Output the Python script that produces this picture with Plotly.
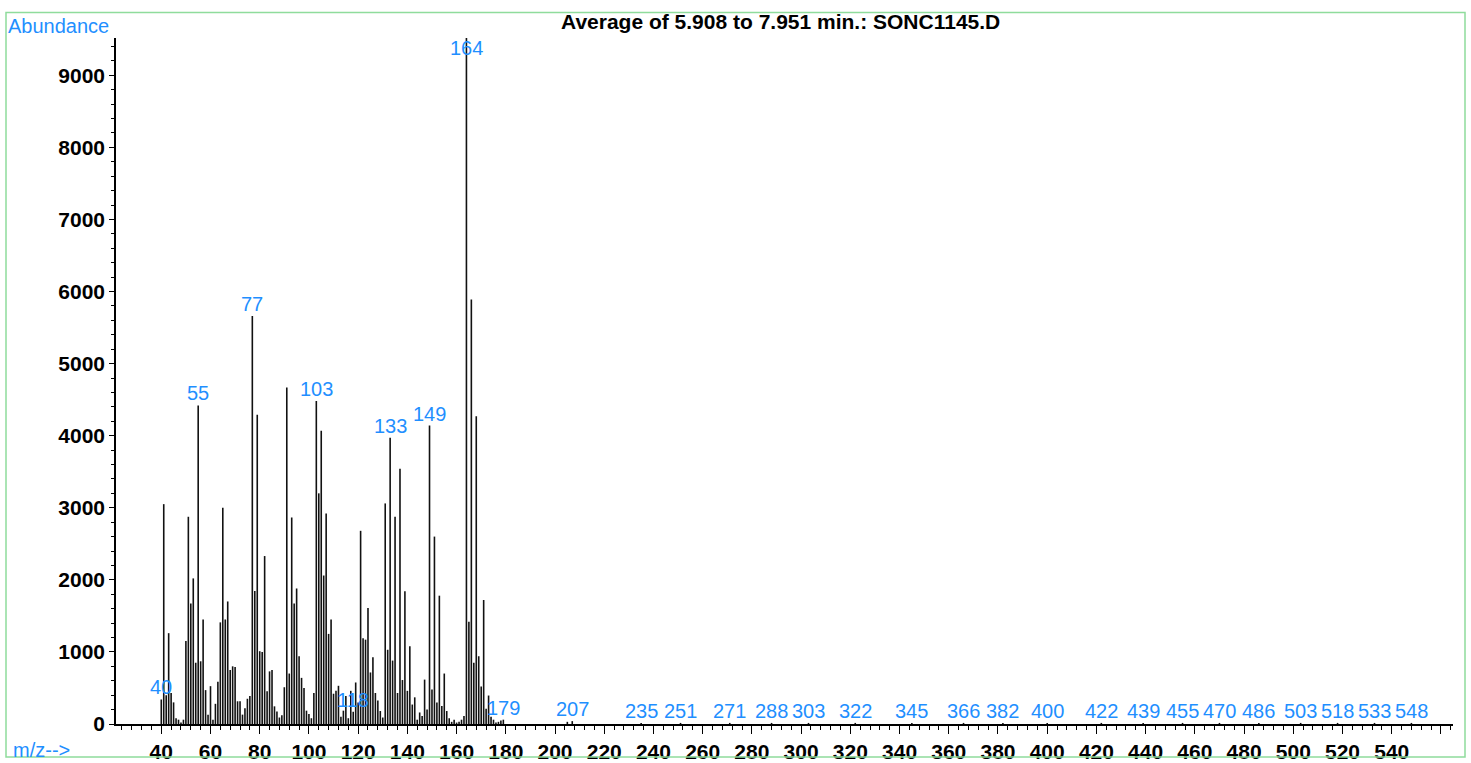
import plotly.graph_objects as go

# ---------------- data ----------------
mz = [40, 41, 42, 43, 44, 45, 46, 47, 48, 49,
      50, 51, 52, 53, 54, 55, 56, 57, 58, 59,
      60, 61, 62, 63, 64, 65, 66, 67, 68, 69,
      70, 71, 72, 73, 74, 75, 76, 77, 78, 79,
      80, 81, 82, 83, 84, 85, 86, 87, 88, 89,
      90, 91, 92, 93, 94, 95, 96, 97, 98, 99,
      100, 101, 102, 103, 104, 105, 106, 107, 108, 109,
      110, 111, 112, 113, 114, 115, 116, 117, 118, 119,
      120, 121, 122, 123, 124, 125, 126, 127, 128, 129,
      130, 131, 132, 133, 134, 135, 136, 137, 138, 139,
      140, 141, 142, 143, 144, 145, 146, 147, 148, 149,
      150, 151, 152, 153, 154, 155, 156, 157, 158, 159,
      160, 161, 162, 163, 164, 165, 166, 167, 168, 169,
      170, 171, 172, 173, 174, 175, 176, 177, 178, 179,
      205, 207, 235, 251, 271, 288, 303, 322, 345, 366,
      382, 400, 422, 439, 455, 470, 486, 503, 518, 533, 548]
abundance = [340, 3050, 400, 1260, 430, 300, 80, 60, 20, 60,
             1150, 2875, 1670, 2020, 850, 4420, 870, 1450, 470, 130,
             525, 60, 280, 585, 1410, 3000, 1450, 1700, 750, 800,
             790, 315, 315, 130, 220, 350, 390, 5660, 1845, 4290,
             1010, 1000, 2330, 455, 730, 750, 245, 175, 90, 120,
             510, 4670, 700, 2865, 1670, 1880, 940, 640, 500, 185,
             140, 80, 430, 4480, 3200, 4070, 2060, 2920, 1250, 1450,
             420, 460, 530, 100, 185, 390, 80, 460, 170, 576,
             300, 2680, 1190, 1170, 1610, 715, 925, 430, 325, 180,
             90, 3060, 1030, 3970, 880, 2875, 430, 3540, 610, 1840,
             460, 1080, 270, 370, 60, 160, 110, 616, 200, 4140,
             480, 2600, 300, 1780, 250, 700, 180, 80, 30, 60,
             20, 30, 60, 110, 9580, 1420, 5890, 850, 4270, 940,
             520, 1720, 210, 395, 100, 60, 20, 30, 50, 60,
             30, 40, 15, 15, 15, 15, 15, 15, 15, 15,
             15, 15, 15, 15, 15, 15, 15, 15, 15, 15, 15]

label_mz = [40, 55, 77, 103, 118, 133, 149, 164, 179, 207, 235, 251, 271,
            288, 303, 322, 345, 366, 382, 400, 422, 439, 455, 470, 486,
            503, 518, 533, 548]

x_tick_vals = list(range(40, 561, 20))
x_tick_text = [str(v) for v in range(40, 541, 20)] + [""]
y_tick_vals = list(range(0, 9001, 1000))
y_tick_text = [str(v) for v in y_tick_vals]

title_text = "Average of 5.908 to 7.951 min.: SONC1145.D"
y_label_text = "Abundance"
x_label_text = "m/z-->"

# ---------------- layout geometry ----------------
W, H = 1471, 763
ML, MR, MT, MB = 116, 18, 38, 39
PW, PH = W - ML - MR, H - MT - MB
X_RANGE = [21.6, 564.9]
Y_MAX = 9517
BLUE = "#1f8fff"
FONT = "Liberation Sans, Arial, sans-serif"


def px_x(p):
    return (p - ML) / PW


def px_y(p):
    return (H - MB - p) / PH


xs, ys = [], []
for m, a in zip(mz, abundance):
    xs += [m, m, None]
    ys += [0, a, None]

fig = go.Figure()
fig.add_trace(go.Scatter(x=xs, y=ys, mode="lines",
                         line=dict(color="#111111", width=1.6),
                         cliponaxis=False, hoverinfo="skip",
                         showlegend=False))

abund_of = dict(zip(mz, abundance))
px_per_unit = PH / Y_MAX
annotations = []
for m in label_mz:
    a = abund_of[m]
    shift = 12
    top_px = (Y_MAX - a) * px_per_unit  # distance of peak top below plot top
    if top_px - shift < 9.5:
        a_pos = Y_MAX
        shift = -9.5
    else:
        a_pos = a
    annotations.append(dict(x=m, y=a_pos, xref="x", yref="y", text=str(m),
                            showarrow=False, xanchor="center",
                            yanchor="middle", yshift=shift,
                            font=dict(family=FONT, size=20, color=BLUE)))

annotations.append(dict(x=px_x(780), y=px_y(21), xref="paper", yref="paper",
                        text=title_text, showarrow=False, xanchor="center",
                        yanchor="middle",
                        font=dict(family=FONT, size=21, color="black",
                                  weight="bold")))
annotations.append(dict(x=px_x(6), y=px_y(26), xref="paper", yref="paper",
                        text=y_label_text, showarrow=False, xanchor="left",
                        yanchor="middle",
                        font=dict(family=FONT, size=20, color=BLUE)))
annotations.append(dict(x=px_x(11), y=px_y(750), xref="paper", yref="paper",
                        text=x_label_text, showarrow=False, xanchor="left",
                        yanchor="middle",
                        font=dict(family=FONT, size=20, color=BLUE)))

fig.update_layout(
    width=W, height=H,
    margin=dict(l=ML, r=MR, t=MT, b=MB, pad=0, autoexpand=False),
    paper_bgcolor="white", plot_bgcolor="white",
    showlegend=False,
    annotations=annotations,
    shapes=[dict(type="rect", xref="paper", yref="paper",
                 x0=px_x(6), x1=px_x(1465), y0=px_y(757), y1=px_y(12.5),
                 line=dict(color="#8fdc9c", width=1.5))],
    xaxis=dict(range=X_RANGE, showline=True, linecolor="black", linewidth=1.6,
               ticks="outside", ticklen=8, tickwidth=1.4, tickcolor="black",
               tickvals=x_tick_vals, ticktext=x_tick_text,
               tickfont=dict(family=FONT, size=21, color="black",
                             weight="bold"),
               showgrid=False, zeroline=False, fixedrange=True,
               automargin=False,
               minor=dict(dtick=4, tick0=0, ticklen=4, ticks="outside",
                          tickcolor="black", tickwidth=1.1, showgrid=False)),
    yaxis=dict(range=[0, Y_MAX], showline=True, linecolor="black",
               linewidth=1.6, ticks="outside", ticklen=5, tickwidth=1.4,
               tickcolor="black", tickvals=y_tick_vals, ticktext=y_tick_text,
               tickfont=dict(family=FONT, size=21, color="black",
                             weight="bold"),
               showgrid=False, zeroline=False, fixedrange=True,
               automargin=False,
               minor=dict(dtick=200, tick0=0, ticklen=3, ticks="outside",
                          tickcolor="black", tickwidth=1.1, showgrid=False)),
)

fig.write_html("out.html", config={"displayModeBar": False},
               post_script="document.body.style.margin='0';"
                           "document.body.style.overflow='hidden';")
